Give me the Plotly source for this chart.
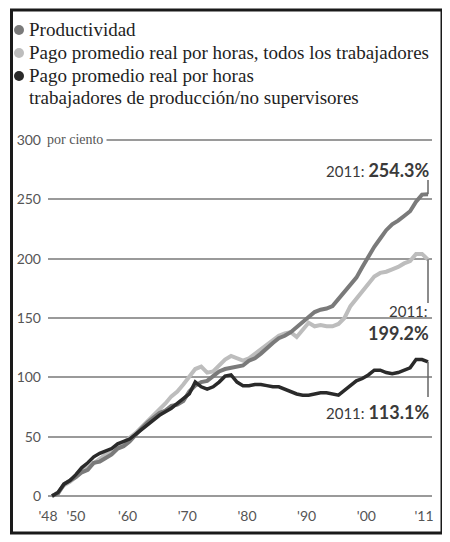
import plotly.graph_objects as go

years = list(range(1948, 2012))

productividad = [0, 2, 10, 13, 16, 20, 22, 28, 29, 32, 35, 40, 42, 46, 52, 57, 62, 66, 70, 72,
                 76, 77, 80, 88, 93, 96, 97, 101, 105, 107, 108, 109, 110, 114, 116, 120, 125,
                 129, 133, 135, 138, 142, 147, 151, 155, 157, 158, 160, 166, 172, 178, 184,
                 193, 202, 210, 217, 224, 229, 232, 236, 240, 248, 254, 254.3]

todos = [0, 3, 9, 12, 16, 21, 24, 28, 32, 35, 37, 41, 44, 48, 53, 58, 63, 68, 72, 78,
         84, 88, 94, 100, 107, 109, 104, 105, 110, 115, 118, 116, 114, 116, 120, 123, 127,
         131, 135, 137, 138, 134, 140, 146, 143, 144, 143, 143, 145, 150, 160, 166,
         172, 178, 185, 188, 189, 191, 193, 196, 198, 204, 204, 199.2]

produccion = [0, 3, 10, 13, 18, 24, 28, 33, 36, 38, 40, 44, 46, 48, 52, 56, 60, 64, 68, 71,
              74, 78, 82, 86, 96, 92, 90, 92, 96, 101, 102, 96, 93, 93, 94, 94, 93,
              92, 92, 90, 88, 86, 85, 85, 86, 87, 87, 86, 85, 89, 93, 97,
              99, 102, 106, 106, 104, 103, 104, 106, 108, 115, 115, 113.1]

y_ticks = [0, 50, 100, 150, 200, 250, 300]
y_tick_labels = ["0", "50", "100", "150", "200", "250", "300"]
x_ticks_mid = [1960, 1970, 1980, 1990, 2000]
x_labels_mid = ["'60", "'70", "'80", "'90", "'00"]
x_ticks_end = [1948, 2011]
x_labels_end = ["'48", "'11"]
x_ticks_50 = [1950]
x_labels_50 = ["'50"]

series_names = ["Productividad",
                "Pago promedio real por horas, todos los trabajadores",
                "Pago promedio real por horas"]
legend_extra = "trabajadores de producción/no supervisores"

W, H = 450, 542
OFF = 8  # page body margin offset
# plot area in reference pixels
PL, PR, PT, PB = 48, 432, 136, 500
ML, MR, MT, MB = PL - OFF, W - (PR - OFF), PT - OFF, H - (PB - OFF)
PW, PH = PR - PL, PB - PT

def px(x):
    return (x - PL) / PW

def py(y):
    return (PB - y) / PH

# y scale: 0 at 496px, 300 at 140px (reference pixels)
ppu = (496 - 140) / 300.0
y_lo = -(PB - 496) / ppu
y_hi = 300 + (140 - PT) / ppu
# x scale: 1948 at 52px, 2011 at 428px
ppy = (428 - 52) / 63.0
x_lo = 1948 - (52 - PL) / ppy
x_hi = 2011 + (PR - 428) / ppy

def val(ypix):
    return (496 - ypix) / ppu

C_PROD = "#7a7a7a"
C_TODOS = "#bdbdbd"
C_NS = "#2a2a2a"
TXT = "#3a3a3a"
TICKC = "#555555"

fig = go.Figure()
fig.add_trace(go.Scatter(x=years, y=todos, mode="lines", line=dict(color=C_TODOS, width=4), hoverinfo="skip"))
fig.add_trace(go.Scatter(x=years, y=productividad, mode="lines", line=dict(color=C_PROD, width=4), hoverinfo="skip"))
fig.add_trace(go.Scatter(x=years, y=produccion, mode="lines", line=dict(color=C_NS, width=3.5), hoverinfo="skip"))
# carriers for the extra tick-label axes (invisible)
for ax in ["x2", "x3"]:
    fig.add_trace(go.Scatter(x=years, y=produccion, xaxis=ax, yaxis="y", mode="lines",
                             line=dict(width=0, color="rgba(0,0,0,0)"), opacity=0, hoverinfo="skip"))

shapes = []
# outer frame
shapes.append(dict(type="rect", xref="paper", yref="paper",
                   x0=px(11.5), x1=px(442), y0=py(533), y1=py(10),
                   line=dict(color="#1a1a1a", width=3), layer="above"))
shapes.append(dict(type="line", xref="paper", yref="paper",
                   x0=px(11.5), x1=px(11.5), y0=py(533), y1=py(10),
                   line=dict(color="#1a1a1a", width=3), layer="above"))
# leader lines
last = years[-1]
for v_from, ypix_to in [(productividad[-1], 180), (todos[-1], 303), (produccion[-1], 397)]:
    shapes.append(dict(type="line", xref="x", yref="y", x0=last, x1=last,
                       y0=v_from, y1=val(ypix_to), line=dict(color="#666666", width=1.5)))

annotations = []
LEGF = dict(family="Liberation Serif", size=19, color="#1e1e1e")
leg = [(series_names[0], C_PROD, 30, 30), (series_names[1], C_TODOS, 53, 52.5), (series_names[2], C_NS, 76, 75.5)]
for name, col, cy, ty in leg:
    shapes.append(dict(type="circle", xref="paper", yref="paper",
                       x0=px(14), x1=px(24), y0=py(cy + 5), y1=py(cy - 5),
                       fillcolor=col, line=dict(width=0)))
    annotations.append(dict(text=name, xref="paper", yref="paper", x=px(26.5), y=py(ty),
                            xanchor="left", yanchor="middle", showarrow=False, font=LEGF))
annotations.append(dict(text=legend_extra, xref="paper", yref="paper", x=px(26.5), y=py(98),
                        xanchor="left", yanchor="middle", showarrow=False, font=LEGF))
# "por ciento"
annotations.append(dict(text="por ciento", xref="paper", yref="paper", x=px(43), y=py(139),
                        xanchor="left", yanchor="middle", showarrow=False, bgcolor="white",
                        borderpad=3,
                        font=dict(family="Liberation Serif", size=14, color=TICKC)))
# value labels
annotations.append(dict(text="2011: <b><span style='font-size:18px'>254.3%</span></b>", xref="paper", yref="paper",
                        x=px(431), y=py(170), xanchor="right", yanchor="middle", showarrow=False,
                        font=dict(family="Lato", size=15, color=TXT)))
annotations.append(dict(text="2011:", xref="paper", yref="paper", x=px(430), y=py(311),
                        xanchor="right", yanchor="middle", showarrow=False,
                        font=dict(family="Lato", size=15, color=TXT)))
annotations.append(dict(text="<b>199.2%</b>", xref="paper", yref="paper", x=px(431), y=py(333),
                        xanchor="right", yanchor="middle", showarrow=False,
                        font=dict(family="Lato", size=18, color=TXT)))
annotations.append(dict(text="2011: <b><span style='font-size:18px'>113.1%</span></b>", xref="paper", yref="paper",
                        x=px(431), y=py(412), xanchor="right", yanchor="middle", showarrow=False,
                        font=dict(family="Lato", size=15, color=TXT)))

xbase = dict(range=[x_lo, x_hi], showgrid=False, zeroline=False, showline=False, ticks="",
             tickangle=0, automargin=False, ticklabelstandoff=6, tickmode="array",
             tickfont=dict(family="Lato", size=14, color=TICKC), fixedrange=True)

fig.update_layout(
    width=W, height=H,
    margin=dict(l=ML, r=MR, t=MT, b=MB, autoexpand=False),
    paper_bgcolor="white", plot_bgcolor="white",
    showlegend=False,
    shapes=shapes, annotations=annotations,
    xaxis=dict(xbase, tickvals=x_ticks_mid, ticktext=x_labels_mid, ticklabelshift=4),
    xaxis2=dict(xbase, tickvals=x_ticks_end, ticktext=x_labels_end, ticklabelshift=-4,
                overlaying="x", anchor="y", side="bottom"),
    xaxis3=dict(xbase, tickvals=x_ticks_50, ticktext=x_labels_50, ticklabelshift=12,
                overlaying="x", anchor="y", side="bottom"),
    yaxis=dict(range=[y_lo, y_hi], tickvals=y_ticks, ticktext=y_tick_labels,
               showgrid=True, gridcolor="#9a9a9a", gridwidth=1.5, zeroline=False,
               showline=False, ticks="", ticklabelstandoff=6, automargin=False,
               tickfont=dict(family="Lato", size=14, color=TICKC), fixedrange=True),
)
fig.update_yaxes(layer="below traces")

fig.write_html("out.html")
